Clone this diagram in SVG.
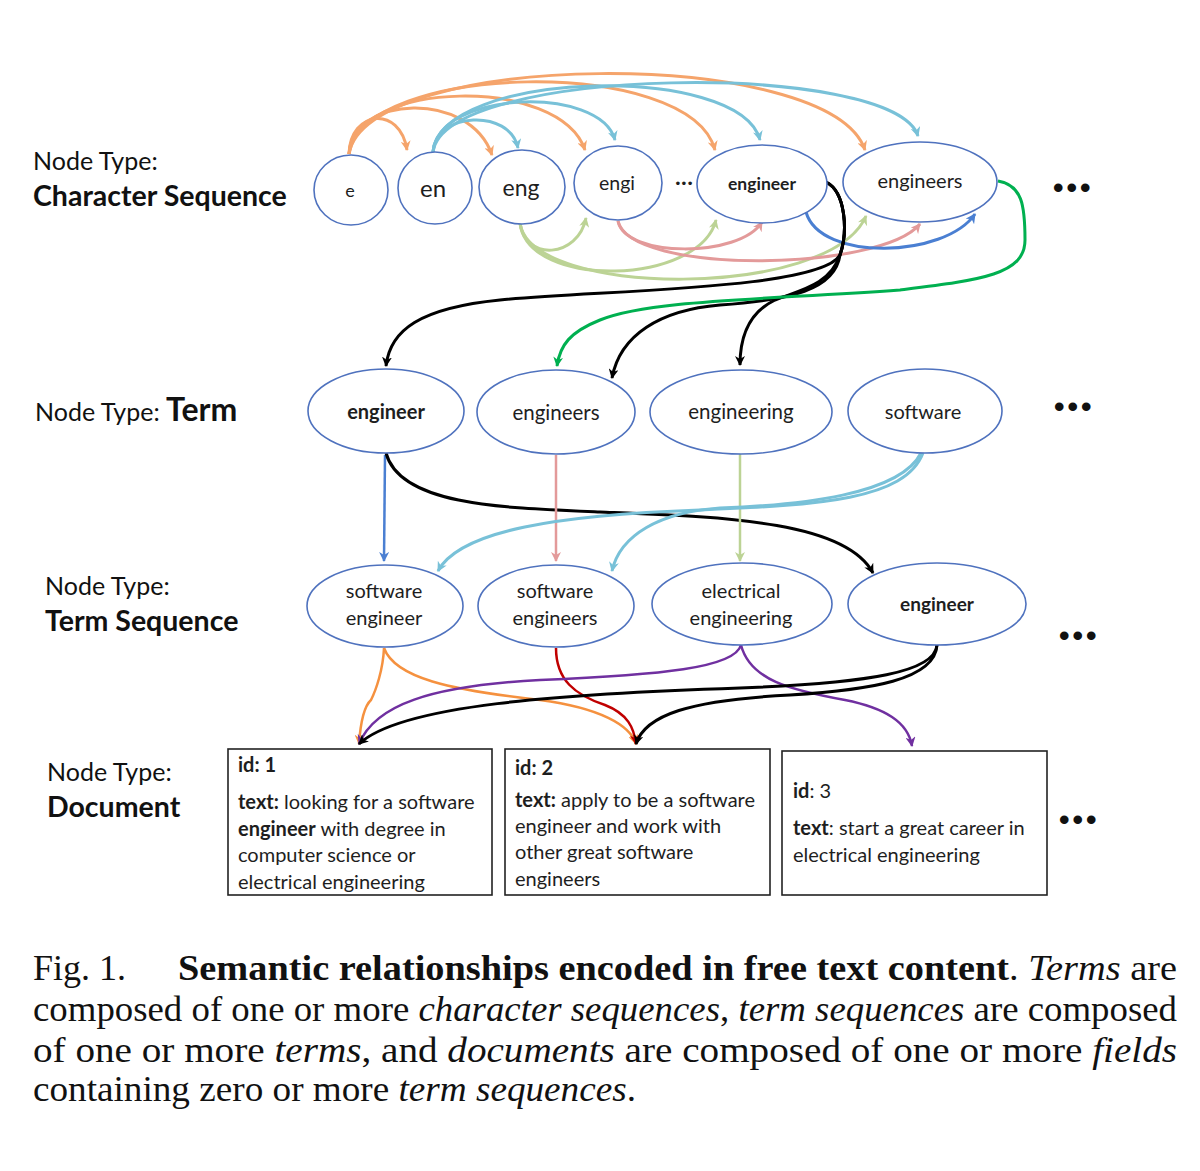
<svg xmlns="http://www.w3.org/2000/svg" width="1200" height="1171" viewBox="0 0 1200 1171">
<style>
.nd{fill:#fff;stroke:#4f72be;stroke-width:1.6}
.t{font-family:Lato,"Liberation Sans",sans-serif;fill:#1e1e1e;text-anchor:middle}
.lb{font-family:Lato,"Liberation Sans",sans-serif;fill:#111;font-size:25px}
.lbb{font-family:Lato,"Liberation Sans",sans-serif;fill:#111;font-weight:bold;font-size:28.5px}
.dt{font-family:Lato,"Liberation Sans",sans-serif;fill:#1e1e1e;font-size:20px}
.b{font-weight:bold}
.box{fill:#fff;stroke:#222;stroke-width:1.6}
.e{fill:none}
.cap{font-family:"Liberation Serif","Times New Roman",serif;font-size:36px;fill:#111}
.dots{font-family:"Liberation Sans",sans-serif;font-size:30px;font-weight:bold;fill:#111;letter-spacing:3px}
</style>
<defs>
<marker id="aO" viewBox="0 0 10 10" refX="9" refY="5" markerWidth="10" markerHeight="10" markerUnits="userSpaceOnUse" orient="auto"><path d="M0,0 L10,5 L0,10 L3,5 z" fill="#f5a46b"/></marker>
<marker id="aC" viewBox="0 0 10 10" refX="9" refY="5" markerWidth="10" markerHeight="10" markerUnits="userSpaceOnUse" orient="auto"><path d="M0,0 L10,5 L0,10 L3,5 z" fill="#78c1d8"/></marker>
<marker id="aG" viewBox="0 0 10 10" refX="9" refY="5" markerWidth="10" markerHeight="10" markerUnits="userSpaceOnUse" orient="auto"><path d="M0,0 L10,5 L0,10 L3,5 z" fill="#bcd395"/></marker>
<marker id="aP" viewBox="0 0 10 10" refX="9" refY="5" markerWidth="10" markerHeight="10" markerUnits="userSpaceOnUse" orient="auto"><path d="M0,0 L10,5 L0,10 L3,5 z" fill="#e39a9a"/></marker>
<marker id="aB" viewBox="0 0 10 10" refX="9" refY="5" markerWidth="10" markerHeight="10" markerUnits="userSpaceOnUse" orient="auto"><path d="M0,0 L10,5 L0,10 L3,5 z" fill="#4a7fd2"/></marker>
<marker id="aK" viewBox="0 0 10 10" refX="9" refY="5" markerWidth="10" markerHeight="10" markerUnits="userSpaceOnUse" orient="auto"><path d="M0,0 L10,5 L0,10 L3,5 z" fill="#000"/></marker>
<marker id="aN" viewBox="0 0 10 10" refX="9" refY="5" markerWidth="10" markerHeight="10" markerUnits="userSpaceOnUse" orient="auto"><path d="M0,0 L10,5 L0,10 L3,5 z" fill="#00b050"/></marker>
<marker id="aR" viewBox="0 0 10 10" refX="9" refY="5" markerWidth="10" markerHeight="10" markerUnits="userSpaceOnUse" orient="auto"><path d="M0,0 L10,5 L0,10 L3,5 z" fill="#c00000"/></marker>
<marker id="aV" viewBox="0 0 10 10" refX="9" refY="5" markerWidth="10" markerHeight="10" markerUnits="userSpaceOnUse" orient="auto"><path d="M0,0 L10,5 L0,10 L3,5 z" fill="#7030a0"/></marker>
<marker id="aQ" viewBox="0 0 10 10" refX="9" refY="5" markerWidth="10" markerHeight="10" markerUnits="userSpaceOnUse" orient="auto"><path d="M0,0 L10,5 L0,10 L3,5 z" fill="#f5913f"/></marker>
</defs>
<rect width="1200" height="1171" fill="#fff"/>

<g id="labels">
<text class="lb" x="33" y="170">Node Type:</text>
<text class="lbb" x="33" y="206">Character Sequence</text>
<text class="lb" x="35" y="421">Node Type: <tspan font-weight="bold" font-size="32px">Term</tspan></text>
<text class="lb" x="45" y="595">Node Type:</text>
<text class="lbb" x="45" y="631">Term Sequence</text>
<text class="lb" x="47" y="781">Node Type:</text>
<text class="lbb" x="47" y="817">Document</text>
</g>

<g id="connectors">
<g class="e" stroke="#f5a46b" stroke-width="3">
<path d="M349,154 C350,110 400,105 407,150" marker-end="url(#aO)"/>
<path d="M349,154 C352,95 470,90 492,155" marker-end="url(#aO)"/>
<path d="M349,154 C355,80 560,75 585,150" marker-end="url(#aO)"/>
<path d="M349,154 C362,62 690,55 715,150" marker-end="url(#aO)"/>
<path d="M349,154 C365,50 830,45 865,150" marker-end="url(#aO)"/>
</g>
<g class="e" stroke="#78c1d8" stroke-width="3">
<path d="M433,152 C435,112 510,108 518,148" marker-end="url(#aC)"/>
<path d="M433,152 C438,90 600,85 615,140" marker-end="url(#aC)"/>
<path d="M433,152 C440,70 740,62 760,140" marker-end="url(#aC)"/>
<path d="M433,152 C445,65 895,60 918,136" marker-end="url(#aC)"/>
</g>
<g class="e" stroke="#bcd395" stroke-width="3">
<path d="M520,223 C525,262 578,258 586,218" marker-end="url(#aG)"/>
<path d="M520,223 C528,290 700,285 716,220" marker-end="url(#aG)"/>
<path d="M520,223 C530,298 830,300 866,216" marker-end="url(#aG)"/>
</g>
<g class="e" stroke="#e39a9a" stroke-width="3">
<path d="M618,221 C625,258 740,258 762,222" marker-end="url(#aP)"/>
<path d="M618,221 C630,275 880,272 920,224" marker-end="url(#aP)"/>
</g>
<path class="e" stroke="#4a7fd2" stroke-width="3" d="M806,212 C820,262 945,258 975,214" marker-end="url(#aB)"/>
<g class="e" stroke="#000" stroke-width="3">
<path d="M826,182 C846,192 848,232 840,255 C820,290 600,290 500,300 C420,308 390,330 386,366" marker-end="url(#aK)"/>
<path d="M826,182 C846,192 848,232 840,255 C835,290 790,300 720,305 C660,310 620,335 612,378" marker-end="url(#aK)"/>
<path d="M826,182 C846,192 848,232 840,255 C830,285 800,290 775,300 C750,312 740,335 740,365" marker-end="url(#aK)"/>
</g>
<path class="e" stroke="#00b050" stroke-width="3" d="M998,181 C1022,185 1025,205 1025,240 C1025,275 980,280 900,290 C760,300 650,300 600,320 C570,332 560,345 557,366" marker-end="url(#aN)"/>

<path class="e" stroke="#4a7fd2" stroke-width="2.5" d="M385,455 L384,561" marker-end="url(#aB)"/>
<path class="e" stroke="#000" stroke-width="3" d="M386,453 C400,505 500,508 600,512 C720,517 845,520 873,573" marker-end="url(#aK)"/>
<path class="e" stroke="#e39a9a" stroke-width="2.5" d="M556,455 L556,561" marker-end="url(#aP)"/>
<path class="e" stroke="#bcd395" stroke-width="2.5" d="M740,454 L740,561" marker-end="url(#aG)"/>
<g class="e" stroke="#78c1d8" stroke-width="3">
<path d="M923,453 C905,500 820,505 700,510 C560,515 460,530 438,571" marker-end="url(#aC)"/>
<path d="M921,453 C900,495 800,505 720,508 C660,512 620,535 612,571" marker-end="url(#aC)"/>
</g>

<g class="e" stroke="#f5913f" stroke-width="2.5">
<path d="M384,648 C383,670 376,690 371,700 C362,708 360,730 359,744" marker-end="url(#aQ)"/>
<path d="M384,648 C395,678 450,690 540,700 C600,708 630,725 636,744" marker-end="url(#aQ)"/>
</g>
<path class="e" stroke="#c00000" stroke-width="2.5" d="M556,648 C556,680 575,695 605,705 C628,714 634,728 636,744" marker-end="url(#aR)"/>
<g class="e" stroke="#7030a0" stroke-width="2.5">
<path d="M741,645 C735,668 660,675 540,680 C430,686 375,705 359,744" marker-end="url(#aV)"/>
<path d="M741,645 C750,680 790,690 845,700 C885,708 908,722 912,746" marker-end="url(#aV)"/>
</g>
<g class="e" stroke="#000" stroke-width="3">
<path d="M937,645 C935,672 870,683 740,688 C560,694 400,705 359,744" marker-end="url(#aK)"/>
<path d="M937,645 C935,680 870,690 790,695 C690,700 645,715 636,744" marker-end="url(#aK)"/>
</g>
</g>

<g id="n-e"><ellipse class="nd" cx="351" cy="190" rx="37" ry="35"/><text class="t" x="350" y="197" font-size="18">e</text></g>
<g id="n-en"><ellipse class="nd" cx="435" cy="188" rx="37" ry="36"/><text class="t" x="433" y="197" font-size="24">en</text></g>
<g id="n-eng"><ellipse class="nd" cx="522" cy="187" rx="43" ry="37"/><text class="t" x="521" y="196" font-size="23">eng</text></g>
<g id="n-engi"><ellipse class="nd" cx="618" cy="183" rx="44" ry="37"/><text class="t" x="617" y="190" font-size="19.5">engi</text></g>
<text class="t" x="684" y="190" font-size="24">···</text>
<g id="n-engineer-c"><ellipse class="nd" cx="762" cy="184" rx="65" ry="39"/><text class="t b" x="762" y="190" font-size="17.5">engineer</text></g>
<g id="n-engineers-c"><ellipse class="nd" cx="920" cy="182" rx="77" ry="40"/><text class="t" x="920" y="188" font-size="20">engineers</text></g>
<text class="dots" x="1053" y="198">•••</text>

<g id="n-engineer-t"><ellipse class="nd" cx="386" cy="411" rx="78" ry="42"/><text class="t b" x="386" y="419" font-size="20">engineer</text></g>
<g id="n-engineers-t"><ellipse class="nd" cx="556" cy="412" rx="79" ry="42"/><text class="t" x="556" y="420" font-size="20.5">engineers</text></g>
<g id="n-engineering-t"><ellipse class="nd" cx="741" cy="412" rx="91" ry="42"/><text class="t" x="741" y="419" font-size="20.5">engineering</text></g>
<g id="n-software-t"><ellipse class="nd" cx="925" cy="411" rx="77" ry="42"/><text class="t" x="923" y="419" font-size="20">software</text></g>
<text class="dots" x="1054" y="417">•••</text>

<g id="n-se"><ellipse class="nd" cx="385" cy="606" rx="78" ry="41"/><text class="t" x="384" y="598" font-size="20">software</text><text class="t" x="384" y="625" font-size="20">engineer</text></g>
<g id="n-ses"><ellipse class="nd" cx="556" cy="606" rx="78" ry="41"/><text class="t" x="555" y="598" font-size="20">software</text><text class="t" x="555" y="625" font-size="20">engineers</text></g>
<g id="n-ee"><ellipse class="nd" cx="742" cy="604" rx="90" ry="41"/><text class="t" x="741" y="598" font-size="20">electrical</text><text class="t" x="741" y="625" font-size="20">engineering</text></g>
<g id="n-engineer-ts"><ellipse class="nd" cx="937" cy="604" rx="89" ry="41"/><text class="t b" x="937" y="611" font-size="19">engineer</text></g>
<text class="dots" x="1059" y="646">•••</text>

<g id="doc1"><rect class="box" x="228" y="749" width="264" height="146"/>
<text class="dt" x="238" y="772"><tspan class="b">id: 1</tspan></text>
<text class="dt" x="238" y="809"><tspan class="b">text:</tspan> looking for a software</text>
<text class="dt" x="238" y="836"><tspan class="b">engineer</tspan> with degree in</text>
<text class="dt" x="238" y="862">computer science or</text>
<text class="dt" x="238" y="889">electrical engineering</text>
</g>
<g id="doc2"><rect class="box" x="505" y="749" width="265" height="146"/>
<text class="dt" x="515" y="775"><tspan class="b">id: 2</tspan></text>
<text class="dt" x="515" y="807"><tspan class="b">text:</tspan> apply to be a software</text>
<text class="dt" x="515" y="833">engineer and work with</text>
<text class="dt" x="515" y="859">other great software</text>
<text class="dt" x="515" y="886">engineers</text>
</g>
<g id="doc3"><rect class="box" x="782" y="751" width="265" height="144"/>
<text class="dt" x="793" y="798"><tspan class="b">id</tspan>: 3</text>
<text class="dt" x="793" y="835"><tspan class="b">text</tspan>: start a great career in</text>
<text class="dt" x="793" y="862">electrical engineering</text>
</g>
<text class="dots" x="1059" y="830">•••</text>

<g id="caption">
<text class="cap" x="33" y="980">Fig. 1.</text>
<text class="cap" x="178" y="980" textLength="999" lengthAdjust="spacingAndGlyphs"><tspan font-weight="bold">Semantic relationships encoded in free text content</tspan>. <tspan font-style="italic">Terms</tspan> are</text>
<text class="cap" x="33" y="1021" textLength="1144" lengthAdjust="spacingAndGlyphs">composed of one or more <tspan font-style="italic">character sequences</tspan>, <tspan font-style="italic">term sequences</tspan> are composed</text>
<text class="cap" x="33" y="1062" textLength="1144" lengthAdjust="spacingAndGlyphs">of one or more <tspan font-style="italic">terms</tspan>, and <tspan font-style="italic">documents</tspan> are composed of one or more <tspan font-style="italic">fields</tspan></text>
<text class="cap" x="33" y="1101" textLength="603" lengthAdjust="spacingAndGlyphs">containing zero or more <tspan font-style="italic">term sequences</tspan>.</text>
</g>
</svg>
